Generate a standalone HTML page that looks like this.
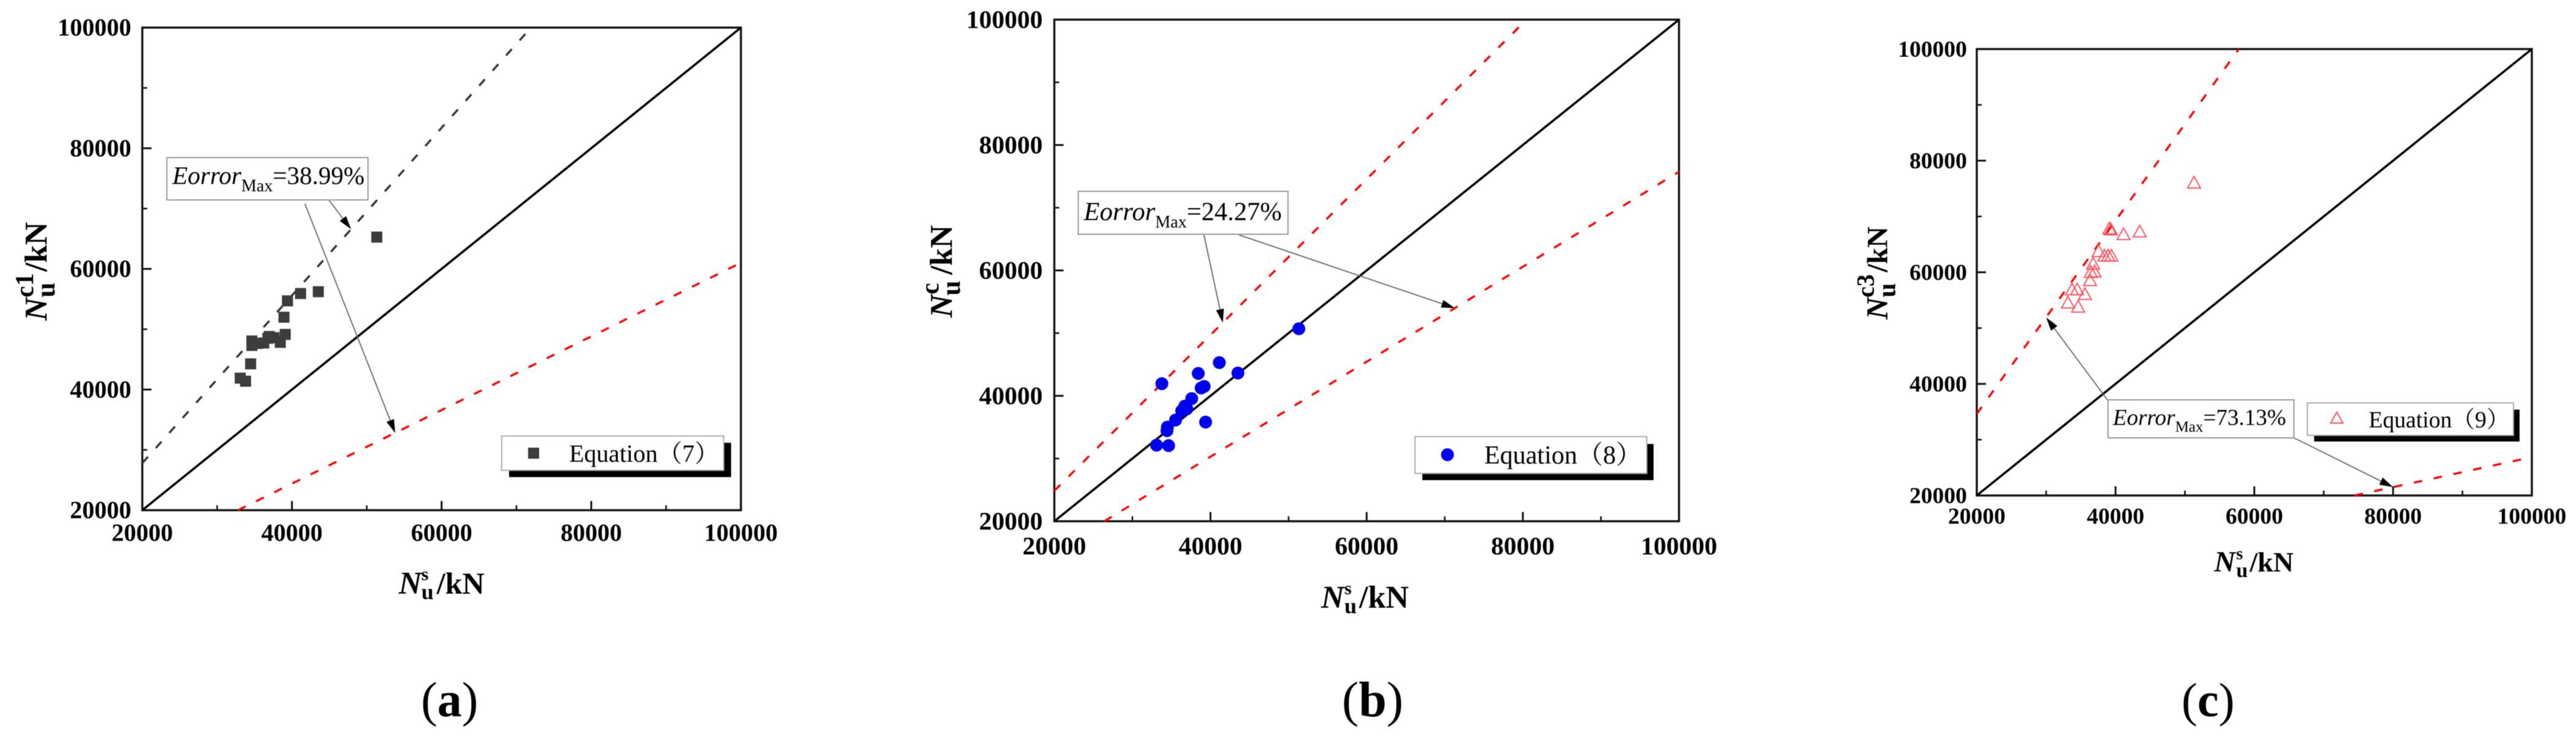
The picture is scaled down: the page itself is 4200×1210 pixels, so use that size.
<!DOCTYPE html>
<html lang="en">
<head>
<meta charset="utf-8">
<title>Calculated vs simulated bearing capacity</title>
<style>
html,body{margin:0;padding:0;background:#fff;}
svg{display:block;filter:blur(0.5px);}
text{font-family:"Liberation Serif","Noto Serif CJK SC",serif;fill:#000;}
.b{font-weight:bold;}
.bi{font-weight:bold;font-style:italic;}
.i{font-style:italic;}
.box{fill:#fff;stroke:#999;stroke-width:2;}
.leg{fill:#fff;stroke:#aaa;stroke-width:2;}
.arrow{stroke:#666;stroke-width:1.8;fill:none;}
</style>
</head>
<body>
<svg id="figure" xmlns="http://www.w3.org/2000/svg" width="4200" height="1210" viewBox="0 0 4200 1210">
  <rect x="0" y="0" width="4200" height="1210" fill="#fff"/>

  <g id="panel-a"></g>
  <g id="panel-b"></g>
  <g id="panel-c"></g>

  <!-- Panel a static text -->
  <g>
    <text x="650" y="968" font-size="52" class="bi">N</text>
    <text x="687" y="946" font-size="30" class="b">s</text>
    <text x="687" y="977" font-size="36" class="b">u</text>
    <text x="712" y="968" font-size="50" class="b">/kN</text>
  </g>
  <g transform="translate(76,523) rotate(-90)">
    <text x="0" y="0" font-size="52" class="bi">N</text>
    <text x="38" y="-22" font-size="42" class="b">c1</text>
    <text x="38" y="13" font-size="44" class="b">u</text>
    <text x="80" y="0" font-size="52" class="b">/kN</text>
  </g>
  <g>
    <rect class="box" x="272" y="257" width="328" height="69"/>
    <text x="281" y="300" font-size="41"><tspan class="i">Eorror</tspan><tspan font-size="28" dy="12">Max</tspan><tspan dy="-12">=38.99%</tspan></text>
  </g>
  <g>
    <rect x="830" y="722" width="362" height="56" fill="#000"/>
    <rect class="leg" x="818" y="711" width="362" height="56"/>
    <rect x="861" y="730" width="18" height="18" fill="#3c3c3c"/>
    <text x="928" y="753" font-size="40">Equation（7）</text>
  </g>
  <text x="733" y="1168" font-size="80" text-anchor="middle">(<tspan class="b">a</tspan>)</text>

  <!-- Panel b static text -->
  <g>
    <text x="2154" y="991" font-size="52" class="bi">N</text>
    <text x="2192" y="969" font-size="30" class="b">s</text>
    <text x="2192" y="1000" font-size="36" class="b">u</text>
    <text x="2216" y="991" font-size="52" class="b">/kN</text>
  </g>
  <g transform="translate(1552,518) rotate(-90)">
    <text x="0" y="0" font-size="52" class="bi">N</text>
    <text x="38" y="-22" font-size="42" class="b">c</text>
    <text x="36" y="13" font-size="44" class="b">u</text>
    <text x="70" y="0" font-size="52" class="b">/kN</text>
  </g>
  <g>
    <rect class="box" x="1758" y="312" width="342" height="70"/>
    <text x="1767" y="359" font-size="42.5"><tspan class="i">Eorror</tspan><tspan font-size="28" dy="12">Max</tspan><tspan dy="-12">=24.27%</tspan></text>
  </g>
  <g>
    <rect x="2319" y="724" width="377" height="59" fill="#000"/>
    <rect class="leg" x="2307" y="712" width="378" height="60"/>
    <circle cx="2360" cy="741.5" r="10.5" fill="#0000f0"/>
    <text x="2420" y="756" font-size="42">Equation（8）</text>
  </g>
  <text x="2238" y="1168" font-size="82" text-anchor="middle">(<tspan class="b">b</tspan>)</text>

  <!-- Panel c static text -->
  <g>
    <text x="3610" y="932" font-size="48" class="bi">N</text>
    <text x="3646" y="912" font-size="28" class="b">s</text>
    <text x="3646" y="941" font-size="34" class="b">u</text>
    <text x="3668" y="932" font-size="46" class="b">/kN</text>
  </g>
  <g transform="translate(3077,521) rotate(-90)">
    <text x="0" y="0" font-size="50" class="bi">N</text>
    <text x="36" y="-22" font-size="40" class="b">c3</text>
    <text x="36" y="13" font-size="42" class="b">u</text>
    <text x="77" y="0" font-size="48" class="b">/kN</text>
  </g>
  <g>
    <rect class="box" x="3437" y="652" width="303" height="62"/>
    <text x="3445" y="693" font-size="37"><tspan class="i">Eorror</tspan><tspan font-size="25" dy="11">Max</tspan><tspan dy="-11">=73.13%</tspan></text>
  </g>
  <g>
    <rect x="3773" y="668" width="335" height="52" fill="#000"/>
    <rect class="leg" x="3762" y="657" width="336" height="53"/>
    <path d="M3810 672 L3820 690 L3800 690 Z" fill="none" stroke="#ff4d5a" stroke-width="2"/>
    <text x="3862" y="697" font-size="37.6">Equation（9）</text>
  </g>
  <text x="3600" y="1168" font-size="78" text-anchor="middle">(<tspan class="b">c</tspan>)</text>
</svg>

<script>
// ---- Chart data ----
const axisMin = 20000;
const axisMax = 100000;
const majorTicks = [20000, 40000, 60000, 80000, 100000];
const minorTicks = [30000, 50000, 70000, 90000];
const tickLabels = ["20000", "40000", "60000", "80000", "100000"];

const equationSevenX = [51340, 41150, 43525, 39400, 38935, 39100, 38440, 37600, 36970, 36780, 36230, 35410, 34650, 34650, 34480, 33090, 33800];
const equationSevenY = [65270, 55920, 56220, 54700, 51990, 49140, 47820, 48600, 48800, 48500, 47720, 47650, 48050, 47310, 44260, 41890, 41380];

const equationEightX = [51315, 41130, 43512, 38433, 33772, 38800, 39192, 37595, 36705, 36313, 36967, 35527, 34480, 34427, 39376, 33092, 34637];
const equationEightY = [50700, 45300, 43635, 43570, 41940, 41250, 41500, 39560, 38350, 37600, 37930, 36140, 35000, 34440, 35810, 32130, 32060];

const equationNineX = [51320, 43485, 41160, 39120, 39330, 37560, 38950, 39400, 38400, 36770, 36970, 36440, 36325, 35590, 34470, 33730, 33140, 34620];
const equationNineY = [76085, 67330, 66850, 67880, 67700, 63810, 63000, 63000, 63000, 61540, 60150, 60080, 58610, 56120, 56960, 56960, 54580, 53850];

// Reference-line slopes: calculated = slope x simulated
const identitySlope = [1];
const boundSlopesA = [1.3899, 0.6101];
const boundSlopesB = [1.2427, 0.7573];
const boundSlopesC = [1.7313, 0.2687];
const boundColorsA = ["#333333", "#ff0000"];
const boundColorsB = ["#ff0000", "#ff0000"];
const boundColorsC = ["#ff0000", "#ff0000"];

// Where each callout arrow lands, in data units [simulated, calculated]
const arrowTipsA = [[47900, 66580], [53800, 32800]];
const arrowTipsB = [[41580, 51670], [71300, 53990]];
const arrowTipsC = [[30000, 51900], [80000, 21500]];

// ---- Drawing ----
const SVG_NS = "http://www.w3.org/2000/svg";

function el(tag, attrs, parent) {
  const node = document.createElementNS(SVG_NS, tag);
  for (const key in attrs) { node.setAttribute(key, attrs[key]); }
  parent.appendChild(node);
  return node;
}

function axisScale(pixelStart, pixelEnd) {
  return function (v) {
    return pixelStart + (v - axisMin) / (axisMax - axisMin) * (pixelEnd - pixelStart);
  };
}

function drawSlopeLine(g, sx, sy, slope, color, width, dash, name) {
  const x1 = Math.max(axisMin, axisMin / slope);
  const x2 = Math.min(axisMax, axisMax / slope);
  const line = el("line", {x1: sx(x1), y1: sy(x1 * slope), x2: sx(x2), y2: sy(x2 * slope), stroke: color, "stroke-width": width}, g);
  if (dash) { line.setAttribute("stroke-dasharray", dash); }
  
  
}

function drawArrow(g, fromX, fromY, tipX, tipY) {
  const a = Math.atan2(tipY - fromY, tipX - fromX);
  const len = 22, half = 6.5;
  const bx = tipX - len * Math.cos(a), by = tipY - len * Math.sin(a);
  const shaft = el("line", {class: "arrow", x1: fromX, y1: fromY, x2: bx, y2: by}, g);
  
  
  const pts = [tipX, tipY, bx - half * Math.sin(a), by + half * Math.cos(a), bx + half * Math.sin(a), by - half * Math.cos(a)].join(" ");
  const head = el("polygon", {points: pts, fill: "#000"}, g);
  
  
}

function drawPanel(opts) {
  const g = document.getElementById(opts.id);
  const sx = axisScale(opts.left, opts.right);
  const sy = axisScale(opts.bottom, opts.top);

  const frame = el("rect", {x: opts.left, y: opts.top, width: opts.right - opts.left, height: opts.bottom - opts.top, fill: "#fff", stroke: "#111", "stroke-width": 3.4}, g);
  
  

  majorTicks.forEach(function (t, i) {
    const xt = el("line", {x1: sx(t), x2: sx(t), y1: opts.bottom, y2: opts.bottom - 15, stroke: "#111", "stroke-width": 3}, g);
    
    
    const yt = el("line", {x1: opts.left, x2: opts.left + 15, y1: sy(t), y2: sy(t), stroke: "#111", "stroke-width": 3}, g);
    
    
    const xl = el("text", {x: sx(t), y: opts.xLabelY, "font-size": opts.fontSize, "text-anchor": "middle", class: "b"}, g);
    xl.textContent = tickLabels[i];
    
    
    const yl = el("text", {x: opts.yLabelX, y: sy(t) + opts.fontSize * 0.33, "font-size": opts.fontSize, "text-anchor": "end", class: "b"}, g);
    yl.textContent = tickLabels[i];
    
    
  });

  minorTicks.forEach(function (t) {
    const xm = el("line", {x1: sx(t), x2: sx(t), y1: opts.bottom, y2: opts.bottom - 8, stroke: "#111", "stroke-width": 2.6}, g);
    
    
    const ym = el("line", {x1: opts.left, x2: opts.left + 8, y1: sy(t), y2: sy(t), stroke: "#111", "stroke-width": 2.6}, g);
    
    
  });

  identitySlope.forEach(function (s) {
    drawSlopeLine(g, sx, sy, s, "#000", 3.6, null, "identity-line");
  });
  opts.slopes.forEach(function (s, i) {
    drawSlopeLine(g, sx, sy, s, opts.colors[i], 3.4, "14 19", "error-bound-line");
  });

  opts.arrowStarts.forEach(function (start, i) {
    const tip = opts.arrowTips[i];
    drawArrow(g, start[0], start[1], sx(tip[0]), sy(tip[1]));
  });

  opts.xs.forEach(function (xv, i) {
    const px = sx(xv), py = sy(opts.ys[i]);
    let mark;
    if (opts.marker === "square") {
      mark = el("rect", {x: px - 9, y: py - 9, width: 18, height: 18, fill: "#3c3c3c"}, g);
    } else if (opts.marker === "circle") {
      mark = el("circle", {cx: px, cy: py, r: 10.5, fill: "#0000f0"}, g);
    } else {
      mark = el("path", {d: "M" + px + " " + (py - 10) + " L" + (px + 10.5) + " " + (py + 9) + " L" + (px - 10.5) + " " + (py + 9) + " Z", fill: "none", stroke: "#ff4d5a", "stroke-width": 1.9}, g);
    }
    
    
  });
}

drawPanel({id: "panel-a", left: 232, right: 1208, top: 45, bottom: 832, xLabelY: 882, yLabelX: 214, fontSize: 40,
  xs: equationSevenX, ys: equationSevenY, marker: "square", slopes: boundSlopesA, colors: boundColorsA,
  arrowTips: arrowTipsA, arrowStarts: [[536, 326], [497, 332]]});

drawPanel({id: "panel-b", left: 1719, right: 2737.5, top: 32, bottom: 850, xLabelY: 904, yLabelX: 1700, fontSize: 41.5,
  xs: equationEightX, ys: equationEightY, marker: "circle", slopes: boundSlopesB, colors: boundColorsB,
  arrowTips: arrowTipsB, arrowStarts: [[1963, 383], [2020, 383]]});

drawPanel({id: "panel-c", left: 3223, right: 4128, top: 80, bottom: 808, xLabelY: 854, yLabelX: 3207, fontSize: 37.5,
  xs: equationNineX, ys: equationNineY, marker: "triangle", slopes: boundSlopesC, colors: boundColorsC,
  arrowTips: arrowTipsC, arrowStarts: [[3436, 652], [3740, 714]]});
</script>
</body>
</html>
